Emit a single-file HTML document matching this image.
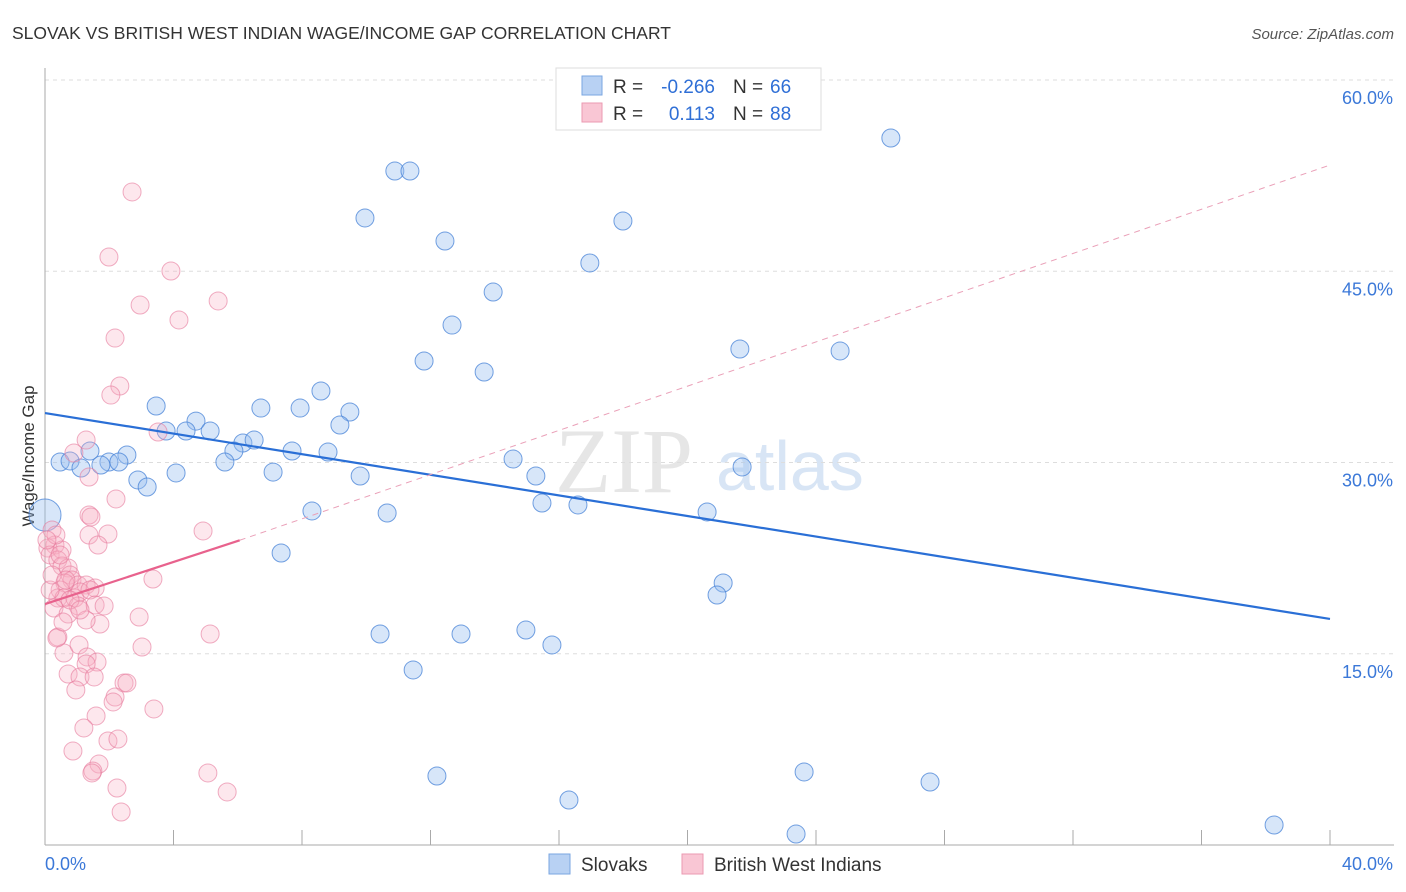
<!DOCTYPE html>
<html><head><meta charset="utf-8"><style>
body{margin:0;background:#fff;font-family:"Liberation Sans",sans-serif}
svg{display:block}
</style></head><body>
<svg id="chart" width="1406" height="892" xmlns="http://www.w3.org/2000/svg">
<text x="12" y="39" font-size="17.5" fill="#333">SLOVAK VS BRITISH WEST INDIAN WAGE/INCOME GAP CORRELATION CHART</text>
<text x="1394" y="39" font-size="15" fill="#555" text-anchor="end" font-style="italic">Source: ZipAtlas.com</text>
<text x="555" y="492" font-size="92" fill="#e6e6e6" font-family="Liberation Serif,serif">ZIP</text>
<text x="716" y="490" font-size="70" fill="#d8e5f5">atlas</text>
<text transform="translate(34,456) rotate(-90)" font-size="17" fill="#333" text-anchor="middle">Wage/Income Gap</text>
<g id="grid"></g><g id="axes"></g><g id="marks"></g><g id="trends"></g>
<g>
<rect x="556" y="68" width="265" height="62" fill="#fff" stroke="#ddd"/>
<rect x="582" y="76" width="20" height="19" fill="#b8d1f3" stroke="#7aa6e0"/>
<rect x="582" y="103" width="20" height="19" fill="#f9c6d4" stroke="#eb9ab2"/>
<text x="613" y="93" font-size="19" fill="#333">R =</text>
<text x="715" y="93" font-size="19" fill="#2f6fd6" text-anchor="end">-0.266</text>
<text x="733" y="93" font-size="19" fill="#333">N =</text>
<text x="770" y="93" font-size="19" fill="#2f6fd6">66</text>
<text x="613" y="120" font-size="19" fill="#333">R =</text>
<text x="715" y="120" font-size="19" fill="#2f6fd6" text-anchor="end">0.113</text>
<text x="733" y="120" font-size="19" fill="#333">N =</text>
<text x="770" y="120" font-size="19" fill="#2f6fd6">88</text>
</g>
<g>
<rect x="549" y="854" width="21" height="20" fill="#b8d1f3" stroke="#7aa6e0"/>
<text x="581" y="871" font-size="19" fill="#333">Slovaks</text>
<rect x="682" y="854" width="21" height="20" fill="#f9c6d4" stroke="#eb9ab2"/>
<text x="714" y="871" font-size="19" fill="#333">British West Indians</text>
</g>
</svg>
<script>
const yTicks=[15,30,45,60];
const yTickLabels=["15.0%","30.0%","45.0%","60.0%"];
const xTickVals=[0,4,8,12,16,20,24,28,32,36,40];
const xLabels=["0.0%","40.0%"];
const slovakX=[26.33,10.89,11.36,9.96,17.99,12.45,16.96,13.95,12.67,21.63,24.75,11.80,13.67,8.59,3.46,6.72,7.94,9.49,9.18,4.70,3.77,4.39,5.14,6.16,6.51,5.88,7.69,8.81,1.40,0.47,0.78,2.55,1.99,2.30,1.74,5.60,14.57,21.70,1.12,7.10,4.08,9.81,2.89,3.18,15.28,15.47,16.59,10.65,8.31,20.61,0,7.35,21.11,20.92,14.97,10.43,12.95,15.78,11.46,12.20,23.63,27.55,16.31,23.38,38.26];
const slovakY=[55.45,52.86,52.86,49.18,48.94,47.37,45.65,43.37,40.78,38.9,38.75,37.96,37.1,35.61,34.43,34.27,34.27,33.96,32.94,33.25,32.47,32.47,32.47,31.53,31.76,30.9,30.9,30.82,30.9,30.04,30.12,30.59,30.04,30.04,29.8,30.04,30.27,29.65,29.57,29.25,29.18,28.94,28.63,28.08,28.94,26.82,26.67,26.04,26.2,26.12,25.88,22.9,20.55,19.61,16.86,16.55,16.55,15.69,13.73,5.41,5.73,4.94,3.53,0.86,1.57];
const bwiX=[2.71,1.99,3.92,2.96,5.39,4.17,2.18,2.33,2.05,3.52,1.28,0.90,1.37,2.21,1.37,1.43,4.92,1.96,1.37,1.65,0.22,0.31,0.09,0.16,0.53,0.40,0.53,0.72,0.78,0.84,0.62,0.47,1.03,1.28,1.56,3.36,0.40,0.59,0.93,1.09,1.40,1.56,1.03,0.28,0.72,1.71,0.40,2.93,5.14,3.02,0.59,1.06,1.31,1.62,1.28,0.72,1.09,1.53,0.96,2.46,2.55,2.18,2.12,3.39,1.59,1.21,1.96,2.27,0.87,1.68,1.49,1.46,2.24,5.07,5.67,2.37,0.37,1.28,0.56,0.16,0.22,0.34,0.78,1.09,0.65,1.84,0.47,0.06];
const bwiY=[51.22,46.12,45.02,42.35,42.67,41.18,39.76,36.0,35.29,32.39,31.76,30.75,28.86,27.14,25.88,25.73,24.63,24.39,24.31,23.53,24.71,23.53,23.29,22.75,23.14,22.35,21.88,21.73,21.18,20.78,20.55,20.0,20.39,20.39,20.16,20.86,19.37,19.37,19.37,19.84,20.0,18.82,18.75,18.59,18.12,17.33,16.31,17.88,16.55,15.53,15.06,15.69,14.75,14.35,14.2,13.41,13.18,13.18,12.16,12.71,12.71,11.61,11.22,10.67,10.12,9.18,8.16,8.31,7.37,6.35,5.80,5.65,4.47,5.65,4.16,2.59,16.24,17.65,17.49,20.0,21.18,24.31,19.22,18.43,20.78,18.75,22.75,23.92];
const slovakTrend=[33.88,17.73];
const bwiTrend=[18.9,23.9,53.33];
const bwiSolidEnd=6.06;

const NS="http://www.w3.org/2000/svg";
const X=v=>45+v*(1285/40);
const Y=v=>845-v*(765/60);
function mk(tag,attrs,parent){const e=document.createElementNS(NS,tag);for(const k in attrs)e.setAttribute(k,attrs[k]);document.getElementById(parent).appendChild(e);return e;}
yTicks.forEach((t,i)=>{
  const l=mk('line',{x1:45,x2:1394,y1:Y(t),y2:Y(t),stroke:'#ddd','stroke-dasharray':'4,4'},'grid');
  
  
  const tx=mk('text',{x:1393,y:Y(t)+24,'font-size':18,fill:'#3b78d8','text-anchor':'end'},'grid');
  tx.textContent=yTickLabels[i];
  
  
});
const ax=mk('line',{x1:45,x2:45,y1:68,y2:845,stroke:'#aaa'},'axes');


const bx=mk('line',{x1:45,x2:1394,y1:845,y2:845,stroke:'#aaa'},'axes');


xTickVals.forEach(t=>{
  const l=mk('line',{x1:X(t),x2:X(t),y1:830,y2:845,stroke:'#aaa'},'axes');
  
  
});
[[0,'start',45],[40,'end',1393]].forEach((d,i)=>{
  const t=mk('text',{x:d[2],y:870,'font-size':18,fill:'#3b78d8','text-anchor':d[1]},'axes');
  t.textContent=xLabels[i];
  
  
});
slovakX.forEach((v,i)=>{
  const c=mk('circle',{cx:X(v),cy:Y(slovakY[i]),r:v===0?16:9,fill:'rgba(150,188,240,0.38)',stroke:'rgba(70,130,215,0.75)','stroke-width':1},'marks');
  
  
});
bwiX.forEach((v,i)=>{
  const c=mk('circle',{cx:X(v),cy:Y(bwiY[i]),r:9,fill:'rgba(247,175,197,0.3)',stroke:'rgba(230,120,155,0.6)','stroke-width':1},'marks');
  
  
});
const t1=mk('line',{x1:X(0),y1:Y(slovakTrend[0]),x2:X(40),y2:Y(slovakTrend[1]),stroke:'#2a6fd6','stroke-width':2.2},'trends');


const t2=mk('line',{x1:X(0),y1:Y(bwiTrend[0]),x2:X(bwiSolidEnd),y2:Y(bwiTrend[1]),stroke:'#e8628d','stroke-width':2.2},'trends');


const t3=mk('line',{x1:X(bwiSolidEnd),y1:Y(bwiTrend[1]),x2:X(40),y2:Y(bwiTrend[2]),stroke:'#eaa0b8','stroke-width':1,'stroke-dasharray':'6,5'},'trends');


</script>
</body></html>
